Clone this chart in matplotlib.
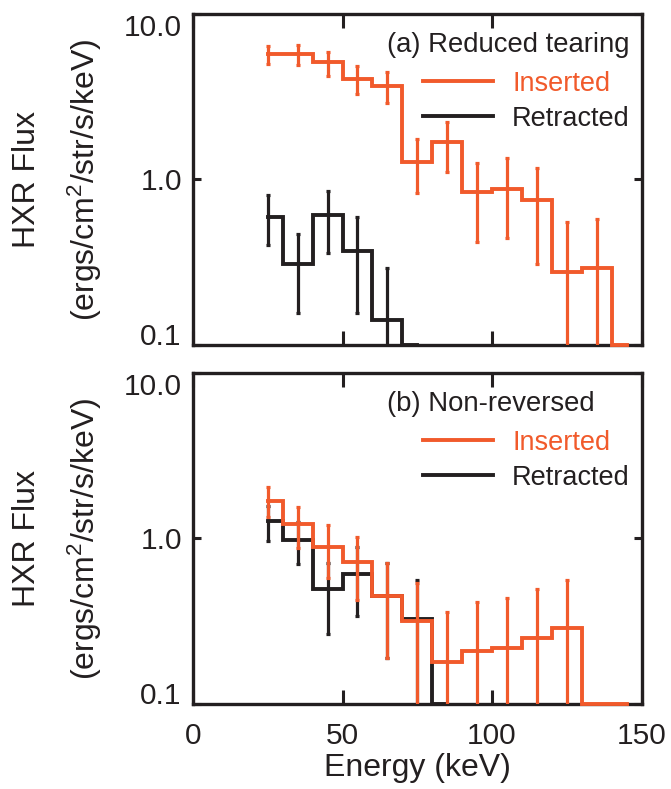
import numpy as np
import matplotlib
matplotlib.use("Agg")
import matplotlib.pyplot as plt

plt.rcParams['font.family'] = ['Liberation Sans', 'DejaVu Sans']
plt.rcParams['mathtext.fontset'] = 'custom'
plt.rcParams['mathtext.rm'] = 'Liberation Sans'
plt.rcParams['mathtext.it'] = 'Liberation Sans'

ORANGE = '#F15A2B'
BLACK = '#231F20'

# ---- data ----
energy_a_ins = [25, 35, 45, 55, 65, 75, 85, 95, 105, 115, 125, 135, 145]
flux_a_ins = [5.7, 5.7, 5.16, 4.06, 3.65, 1.28, 1.68, 0.84, 0.88, 0.75, 0.276, 0.29, 0.1]
lo_a_ins = [5.0, 4.95, 4.23, 3.28, 2.9, 0.83, 1.11, 0.42, 0.445, 0.31, 0.05, 0.05, np.nan]
hi_a_ins = [6.41, 6.45, 5.87, 4.86, 4.43, 1.76, 2.24, 1.26, 1.34, 1.18, 0.556, 0.574, np.nan]

energy_a_ret = [25, 35, 45, 55, 65, 75]
flux_a_ret = [0.593, 0.31, 0.61, 0.37, 0.142, 0.1]
lo_a_ret = [0.40, 0.157, 0.36, 0.157, 0.05, np.nan]
hi_a_ret = [0.81, 0.47, 0.858, 0.593, 0.29, np.nan]

energy_b_ins = [25, 35, 45, 55, 65, 75, 85, 95, 105, 115, 125, 135, 145]
flux_b_ins = [1.68, 1.226, 0.887, 0.724, 0.45, 0.318, 0.18, 0.208, 0.218, 0.249, 0.286, 0.1, 0.1]
lo_b_ins = [1.34, 0.88, 0.58, 0.425, 0.189, 0.05, 0.05, 0.05, 0.05, 0.05, 0.05, np.nan, np.nan]
hi_b_ins = [2.04, 1.54, 1.2, 1.02, 0.714, 0.54, 0.36, 0.416, 0.44, 0.498, 0.561, np.nan, np.nan]

energy_b_ret = [25, 35, 45, 55, 65, 75, 85]
flux_b_ret = [1.28, 0.98, 0.493, 0.61, 0.45, 0.325, 0.1]
lo_b_ret = [0.97, 0.70, 0.264, 0.34, 0.189, 0.05, np.nan]
hi_b_ret = [1.57, 1.26, 0.71, 0.89, 0.714, 0.558, np.nan]

yticks = [0.1, 1.0, 10.0]
yticklabels = ['0.1', '1.0', '10.0']
xticks = [0, 50, 100, 150]
xticklabels = ['0', '50', '100', '150']

panel_titles = ['(a) Reduced tearing', '(b) Non-reversed']
series_names = ['Inserted', 'Retracted']

fig = plt.figure(figsize=(6.71, 7.89), dpi=100)
ax_a = fig.add_axes([0.2876, 0.5627, 0.6685, 0.4196])
ax_b = fig.add_axes([0.2876, 0.1077, 0.6685, 0.4196])


def draw_series(ax, x, y, lo, hi, color, label, z):
    x = np.asarray(x, float); y = np.asarray(y, float)
    lo = np.asarray(lo, float); hi = np.asarray(hi, float)
    ax.step(x, y, where='mid', color=color, lw=2.8, label=label,
            zorder=z, clip_on=False, solid_joinstyle='miter')
    m = ~np.isnan(lo)
    ax.errorbar(x[m], y[m], yerr=[y[m] - lo[m], hi[m] - y[m]], fmt='none',
                ecolor=color, elinewidth=2.3, capsize=1.3, capthick=2.3,
                zorder=z)


draw_series(ax_a, energy_a_ret, flux_a_ret, lo_a_ret, hi_a_ret, BLACK, series_names[1], 3)
draw_series(ax_a, energy_a_ins, flux_a_ins, lo_a_ins, hi_a_ins, ORANGE, series_names[0], 4)
draw_series(ax_b, energy_b_ret, flux_b_ret, lo_b_ret, hi_b_ret, BLACK, series_names[1], 3)
draw_series(ax_b, energy_b_ins, flux_b_ins, lo_b_ins, hi_b_ins, ORANGE, series_names[0], 4)

for ax, title in zip([ax_a, ax_b], panel_titles):
    ax.set_yscale('log')
    ax.set_ylim(0.1, 10)
    ax.set_xlim(0, 150)
    ax.set_yticks(yticks)
    ax.set_yticklabels(yticklabels)
    ax.yaxis.set_minor_locator(matplotlib.ticker.NullLocator())
    ax.set_xticks(xticks)
    ax.tick_params(axis='x', direction='in', length=10, width=2.2, top=True,
                   labelsize=21.5, pad=13, color=BLACK, labelcolor=BLACK)
    ax.tick_params(axis='y', direction='in', length=6, width=2.2, right=True,
                   labelsize=21.5, pad=8, color=BLACK, labelcolor=BLACK)
    for s in ax.spines.values():
        s.set_linewidth(2.4)
        s.set_color(BLACK)
        s.set_zorder(3.5)
    labs = ax.get_yticklabels()
    labs[0].set_va('baseline')
    labs[2].set_va('top')
    ax.text(0.432, 0.947, title, transform=ax.transAxes, fontsize=19.8,
            ha='left', va='top', color=BLACK)
    handles, labels = ax.get_legend_handles_labels()
    order = [labels.index(n) for n in series_names]
    leg = ax.legend([handles[i] for i in order], [labels[i] for i in order],
                    loc='upper right', bbox_to_anchor=(0.974, 0.828),
                    frameon=False, fontsize=19.5, handlelength=2.6,
                    handletextpad=0.7, labelspacing=0.33, borderpad=0,
                    borderaxespad=0, labelcolor='linecolor')

ax_a.set_xticklabels([])
ax_b.set_xticklabels(xticklabels)
ax_b.set_xlabel('Energy (keV)', fontsize=23, color=BLACK, labelpad=2)

for ax in [ax_a, ax_b]:
    pos = ax.get_position()
    yc = (pos.y0 + pos.y1) / 2
    fig.text(0.040, yc, 'HXR Flux', rotation=90, ha='center', va='center',
             fontsize=23, color=BLACK)
    fig.text(0.127, yc, r'(ergs/cm$^2$/str/s/keV)', rotation=90, ha='center',
             va='center', fontsize=23, color=BLACK)

fig.savefig('out.png', dpi=100)
